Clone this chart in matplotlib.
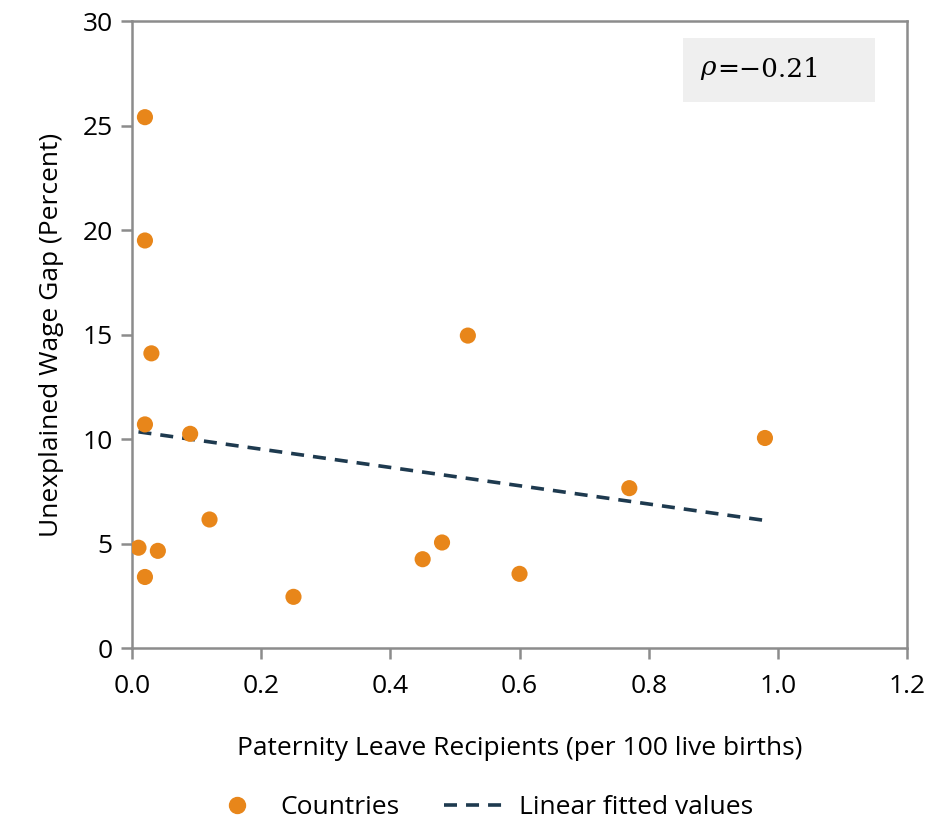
import numpy as np
import matplotlib
matplotlib.use("Agg")
import matplotlib.pyplot as plt
from matplotlib.lines import Line2D
from matplotlib.patches import Rectangle

plt.rcParams['font.family'] = ['Open Sans', 'DejaVu Sans']

paternity_leave = [0.02, 0.02, 0.03, 0.02, 0.09, 0.01, 0.04, 0.02, 0.12, 0.25,
                   0.45, 0.48, 0.52, 0.60, 0.77, 0.98]
wage_gap = [25.4, 19.5, 14.1, 10.7, 10.25, 4.8, 4.65, 3.4, 6.15, 2.45,
            4.25, 5.05, 14.95, 3.55, 7.65, 10.05]
rho_value = '=\u22120.21'

x_ticks = [0.0, 0.2, 0.4, 0.6, 0.8, 1.0, 1.2]
x_tick_labels = ['0.0', '0.2', '0.4', '0.6', '0.8', '1.0', '1.2']
y_ticks = [0, 5, 10, 15, 20, 25, 30]

orange = '#E8861A'
navy = '#1E3A4F'
grey = '#8C8C8C'
dash = (0, (3.6, 2.5))

fig = plt.figure(figsize=(9.41, 8.25), dpi=100)
ax = fig.add_axes([0.1403, 0.2145, 0.8236, 0.76])

x = np.array(paternity_leave)
y = np.array(wage_gap)
slope, intercept = np.polyfit(x, y, 1)
xf = np.array([x.min(), x.max()])
ax.plot(xf, intercept + slope * xf, color=navy, lw=2.6, ls=dash, zorder=2)
ax.scatter(x, y, s=135, color=orange, edgecolors='none', zorder=3)

ax.set_xlim(0, 1.2)
ax.set_ylim(0, 30)
ax.set_xticks(x_ticks)
ax.set_xticklabels(x_tick_labels)
ax.set_yticks(y_ticks)
for s in ax.spines.values():
    s.set_color(grey)
    s.set_linewidth(1.8)
ax.tick_params(axis='both', colors=grey, width=1.8, length=8, labelsize=19, labelcolor='black')
ax.tick_params(axis='x', pad=11)
ax.tick_params(axis='y', pad=6)

ax.set_xlabel('Paternity Leave Recipients (per 100 live births)', fontsize=19, labelpad=26)
ax.set_ylabel('Unexplained Wage Gap (Percent)', fontsize=19, labelpad=13)

ax.add_patch(Rectangle((0.711, 0.871), 0.248, 0.102, transform=ax.transAxes,
                       fc='#EFEFEF', ec='none', zorder=1))
t1 = ax.text(0.733, 0.922, r'$\rho$', transform=ax.transAxes, fontsize=19,
             ha='left', va='center', math_fontfamily='dejavuserif')
fig.canvas.draw()
bb = t1.get_window_extent()
xr = ax.transAxes.inverted().transform((bb.x1, bb.y0))[0]
ax.text(xr, 0.922, rho_value, transform=ax.transAxes, fontsize=19,
        ha='left', va='center', family='DejaVu Serif')

handles = [Line2D([], [], marker='o', ls='none', color=orange, markersize=11.5),
           Line2D([], [], color=navy, lw=2.6, ls=dash)]
fig.legend(handles, ['Countries', 'Linear fitted values'], loc='center',
           bbox_to_anchor=(0.509, 0.021), ncol=2, frameon=False, fontsize=19,
           handlelength=2.46, columnspacing=1.7, handletextpad=0.38)

fig.savefig('out.png', dpi=100)
